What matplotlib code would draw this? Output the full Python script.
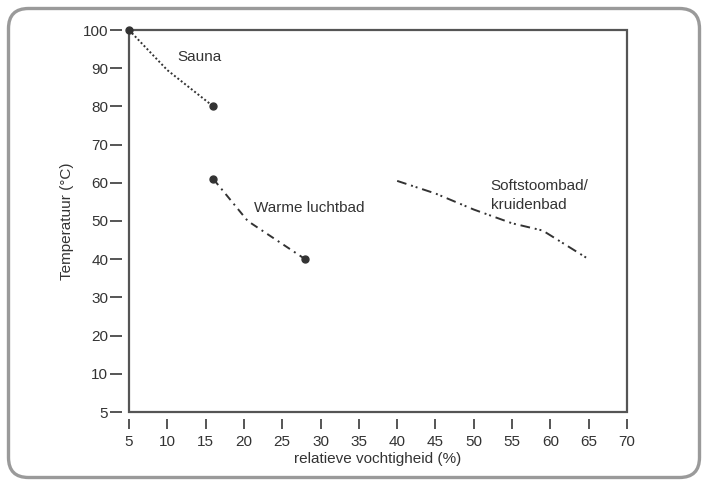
import matplotlib
matplotlib.use("Agg")
import matplotlib.pyplot as plt
from matplotlib.patches import FancyBboxPatch
from matplotlib.transforms import IdentityTransform

plt.rcParams['font.family'] = ['Liberation Sans', 'DejaVu Sans']

# data
sauna_x = [5, 10, 16]
sauna_y = [100, 89.5, 80]
warm_x = [16, 20.5, 28]
warm_y = [61, 50, 40]
stoom_x = [40, 45, 50, 55, 59, 61, 65]
stoom_y = [60.5, 57.2, 53, 49.4, 47.5, 45, 40]

xticks = [5, 10, 15, 20, 25, 30, 35, 40, 45, 50, 55, 60, 65, 70]
yticks = [0, 10, 20, 30, 40, 50, 60, 70, 80, 90, 100]
ylabels = ["5", "10", "20", "30", "40", "50", "60", "70", "80", "90", "100"]

txt = '#333333'
axc = '#555555'

fig = plt.figure(figsize=(7.04, 4.8), dpi=100)
ax = fig.add_axes([129/704, 1 - 412/480, (627 - 129)/704, (412 - 30)/480])

ax.plot(sauna_x, sauna_y, color=txt, lw=1.4, linestyle=(0, (1, 1.2)))
ax.plot([sauna_x[0], sauna_x[-1]], [sauna_y[0], sauna_y[-1]], 'o',
        color=txt, ms=5, clip_on=False, zorder=5)
ax.plot(warm_x, warm_y, color=txt, lw=1.4, linestyle=(0, (4, 2.5, 1, 2.5)))
ax.plot([warm_x[0], warm_x[-1]], [warm_y[0], warm_y[-1]], 'o',
        color=txt, ms=5, zorder=5)
ax.plot(stoom_x, stoom_y, color=txt, lw=1.4,
        linestyle=(0, (5, 2.5, 1, 1.5, 1, 2.5)))

ax.text(11.3, 92.9, "Sauna", fontsize=11, color=txt, va='center')
ax.text(21.3, 53.5, "Warme luchtbad", fontsize=11, color=txt, va='center')
ax.text(52.2, 56.6, "Softstoombad/\nkruidenbad", fontsize=11, color=txt,
        va='center', linespacing=1.45)

ax.set_xlim(5, 70)
ax.set_ylim(0, 100)
ax.set_xticks(xticks)
ax.set_xticklabels([str(v) for v in xticks])
ax.set_yticks(yticks)
ax.set_yticklabels(ylabels)

# detached ticks: offset the (hidden) spines, draw the frame via the patch
for side in ['left', 'bottom']:
    ax.spines[side].set_position(('outward', 5))
for s in ax.spines.values():
    s.set_color('none')
ax.patch.set_edgecolor(axc)
ax.patch.set_linewidth(1.6)

ax.tick_params(axis='y', direction='out', length=8.5, width=1.4,
               color=axc, labelcolor=txt, labelsize=11, pad=1.5)
ax.tick_params(axis='x', direction='out', length=7, width=1.4,
               color=axc, labelcolor=txt, labelsize=11, pad=4.5)

ax.set_xlabel("relatieve vochtigheid (%)", fontsize=11, color=txt, labelpad=2.5)
ax.set_ylabel("Temperatuur (°C)", fontsize=11, color=txt, labelpad=6)

border = FancyBboxPatch((8.5, 2.5), 691, 469,
                        boxstyle="round,pad=0,rounding_size=20",
                        transform=IdentityTransform(), fill=False,
                        edgecolor='#9a9a9a', linewidth=2.4)
fig.patches.append(border)

fig.savefig("out.png", dpi=100)
